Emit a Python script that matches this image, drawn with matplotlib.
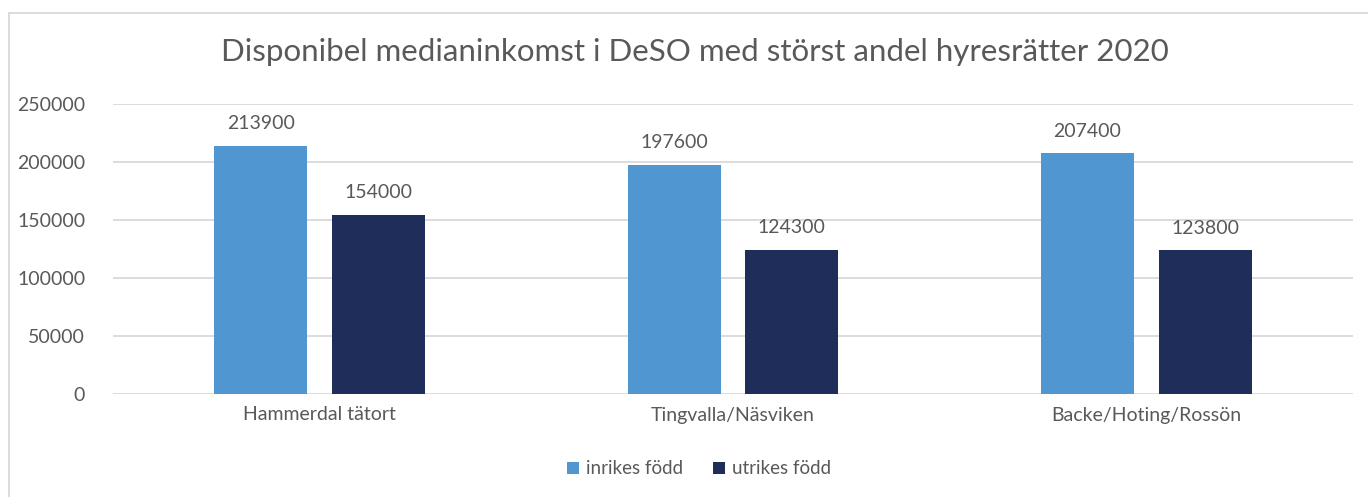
import matplotlib
matplotlib.use("Agg")
import matplotlib.pyplot as plt
import numpy as np
from matplotlib.patches import Rectangle

plt.rcParams['font.family'] = ['Lato', 'DejaVu Sans']

categories = ["Hammerdal tätort", "Tingvalla/Näsviken", "Backe/Hoting/Rossön"]
inrikes = [213900, 197600, 207400]
utrikes = [154000, 124300, 123800]
series_names = ["inrikes född", "utrikes född"]
yticks = [0, 50000, 100000, 150000, 200000, 250000]

c_in = "#5097D2"
c_ut = "#1E2D59"
txt = "#595959"
grid = "#D9D9D9"

W, H = 1368, 497
fig = plt.figure(figsize=(W / 100, H / 100), dpi=100)

# outer chart frame (cut off at right and bottom like the screenshot)
fig.patches.append(Rectangle((9 / W, -0.1), 1.2, 1 - 13 / H + 0.1,
                             transform=fig.transFigure, fill=False,
                             edgecolor=grid, linewidth=1.3))

ax = fig.add_axes([113 / W, 1 - 394 / H, (1353 - 113) / W, (394 - 104) / H])

x = np.arange(len(categories))
bw = 0.225
gap = 0.06
b1 = ax.bar(x - (bw + gap) / 2, inrikes, bw, color=c_in, label=series_names[0], zorder=3)
b2 = ax.bar(x + (bw + gap) / 2, utrikes, bw, color=c_ut, label=series_names[1], zorder=3)

for bars in (b1, b2):
    for r in bars:
        ax.annotate(f"{int(r.get_height())}", (r.get_x() + r.get_width() / 2, r.get_height()),
                    xytext=(0, 10), textcoords="offset points", ha="center", va="bottom",
                    fontsize=14, color=txt)

ax.set_xlim(-0.5, len(categories) - 0.5)
ax.set_ylim(0, 250000)
ax.set_yticks(yticks)
ax.set_yticklabels([str(v) for v in yticks])
ax.set_xticks(x)
ax.set_xticklabels(categories)
ax.tick_params(axis="both", length=0, labelsize=14, labelcolor=txt)
ax.tick_params(axis="y", pad=20)
ax.tick_params(axis="x", pad=9)
ax.yaxis.grid(True, color=grid, linewidth=1.3, zorder=0)
for s in ax.spines.values():
    s.set_visible(False)
ax.set_facecolor("none")

fig.text(695 / W, 1 - 52 / H, "Disponibel medianinkomst i DeSO med störst andel hyresrätter 2020",
         ha="center", va="center", fontsize=22.5, color=txt)

fig.legend(handles=[b1, b2], labels=series_names, loc="center", bbox_to_anchor=(699 / W, 1 - 469 / H),
           ncol=2, frameon=False, fontsize=13.5, labelcolor=txt, handlelength=0.65, handleheight=0.65,
           handletextpad=0.35, columnspacing=1.6)

fig.savefig("out.png", dpi=100)
